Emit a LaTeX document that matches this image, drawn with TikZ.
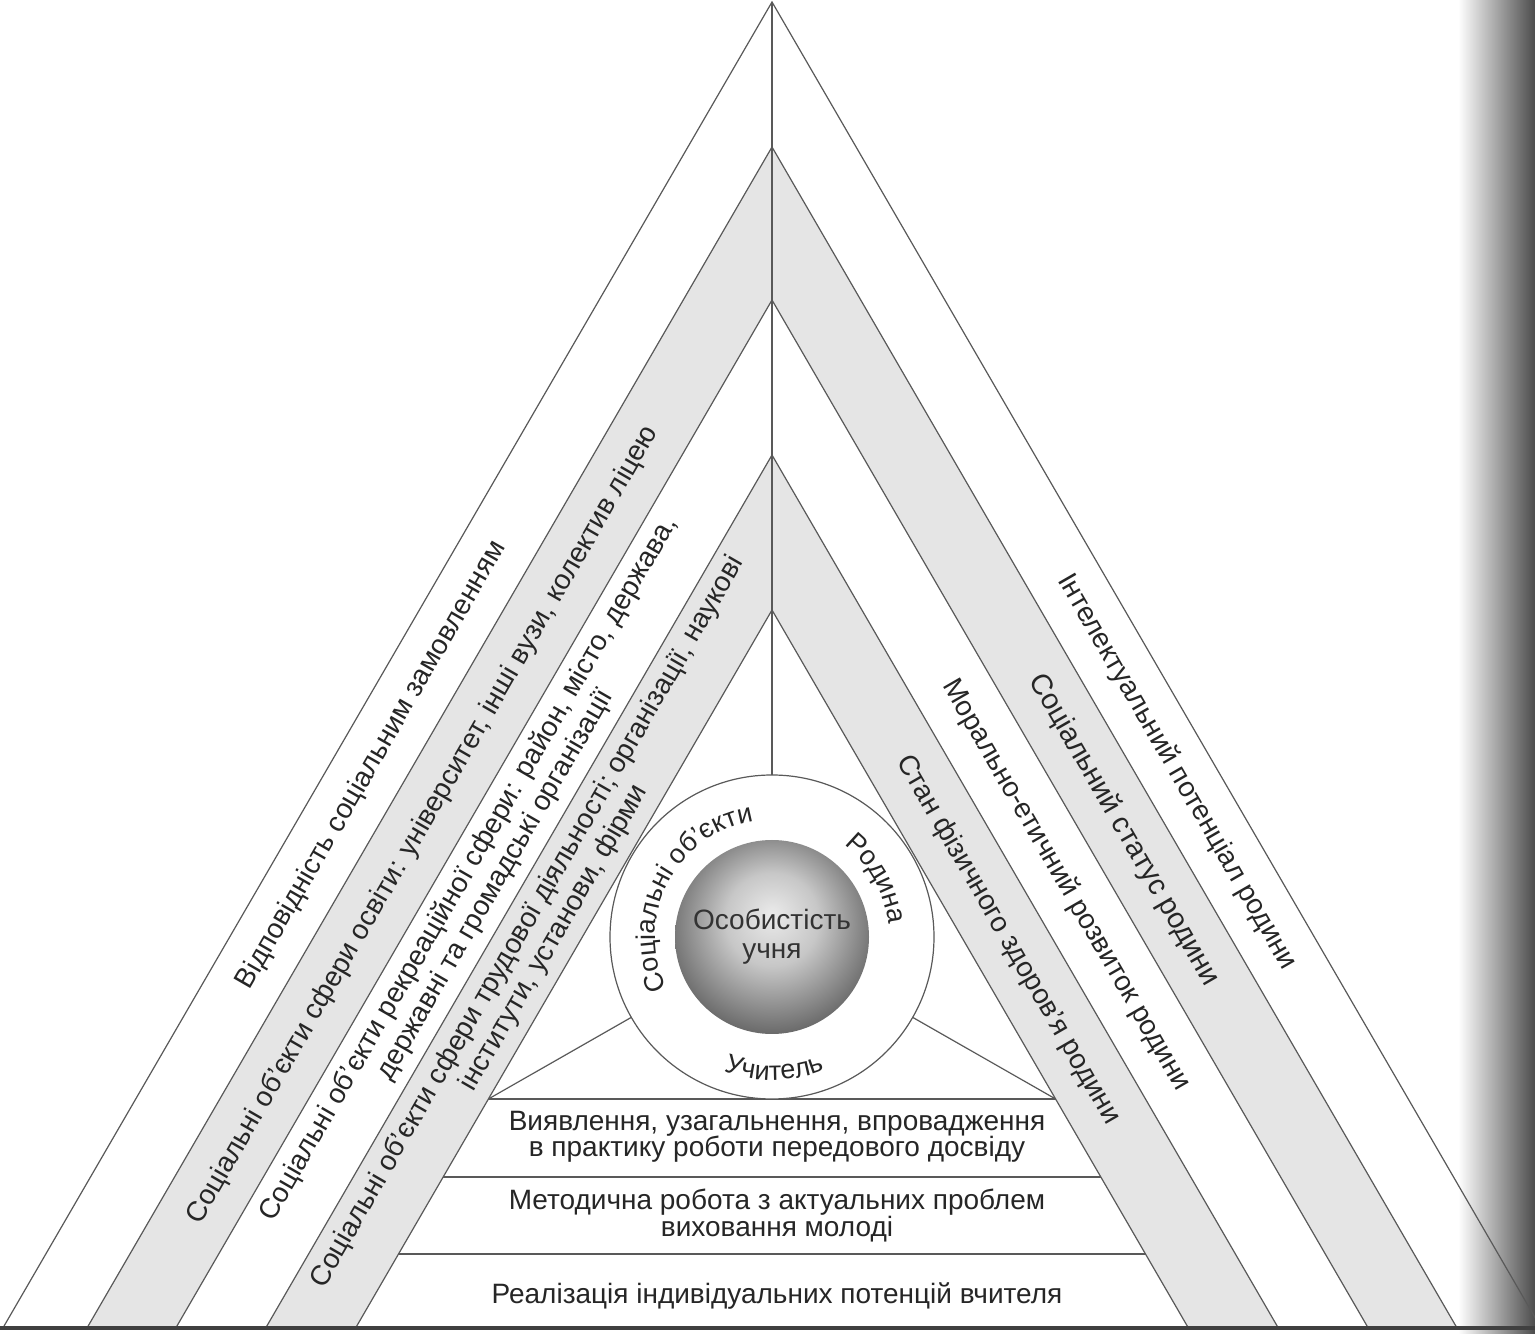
\documentclass[tikz,border=0pt]{standalone}
\usepackage{fontspec}
\setmainfont{Liberation Sans}
\usetikzlibrary{decorations.text,shadings}
\pgfdeclareradialshading{orb}{\pgfpoint{0bp}{6bp}}{color(0bp)=(black!8); color(12bp)=(black!22); color(30bp)=(black!64); color(50bp)=(black!90)}
\tikzstyle{edge} = [draw=black!65, line width=1.2pt]
\tikzstyle{band} = [fill=black!10]
\tikzstyle{slanttext} = [text=black!85, font=\fontsize{28}{31}\selectfont, align=center, inner sep=0pt]
\tikzstyle{leveltext} = [text=black!85, font=\fontsize{28}{26.5}\selectfont, align=center, inner sep=0pt]
\newcommand{\ringfont}{\fontsize{27}{28}\selectfont\color{black!85}}

\begin{document}
\begin{tikzpicture}[x=1pt, y=1pt]
                \useasboundingbox (0,0) rectangle (1535,1334);
                \fill [white] (0,0) rectangle (1535,1334);
                \shade [left color=white, right color=black!70] (1458,0) rectangle (1535,1334);

                \coordinate (A1) at (772,1332);
                \coordinate (L1) at (2.9,6);
                \coordinate (R1) at (1541.1,6);
                \coordinate (A2) at (772,1187);
                \coordinate (L2) at (87,6);
                \coordinate (R2) at (1457,6);
                \coordinate (A3) at (772,1034);
                \coordinate (L3) at (175.8,6);
                \coordinate (R3) at (1368.2,6);
                \coordinate (A4) at (772,879);
                \coordinate (L4) at (265.7,6);
                \coordinate (R4) at (1278.3,6);
                \coordinate (A5) at (772,724);
                \coordinate (L5) at (355.6,6);
                \coordinate (R5) at (1188.4,6);
                \coordinate (H1l) at (488.4,235);
                \coordinate (H1r) at (1055.6,235);
                \coordinate (H2l) at (443,157);
                \coordinate (H2r) at (1101,157);
                \coordinate (H3l) at (398.3,80);
                \coordinate (H3r) at (1145.7,80);
                \coordinate (O) at (772,397);

                \fill [band] (L2) -- (A2) -- (R2) -- (R3) -- (A3) -- (L3) -- cycle;
                \fill [band] (L4) -- (A4) -- (R4) -- (R5) -- (A5) -- (L5) -- cycle;

                \draw [edge] (L1) -- (A1) -- (R1);
                \draw [edge] (L2) -- (A2) -- (R2);
                \draw [edge] (L3) -- (A3) -- (R3);
                \draw [edge] (L4) -- (A4) -- (R4);
                \draw [edge] (L5) -- (A5) -- (R5);
                \draw [edge] (H1l) -- (H1r);
                \draw [edge] (H2l) -- (H2r);
                \draw [edge] (H3l) -- (H3r);
                \draw [edge] (A1) -- (O);
                \draw [edge] (O) -- (H1l);
                \draw [edge] (O) -- (H1r);
                \draw [line width=4pt, draw=black!75] (0,6) -- (1535,6);

                \node (ring) [circle, edge, fill=white, minimum size=324pt, inner sep=0pt] at (O) {};
                \shade [shading=orb] (O) circle (97);
                \node (core) [leveltext, font=\fontsize{28}{29}\selectfont, text=black!80] at (O) {Особистість\\учня};

                \path [decorate, decoration={text along path, text align=center, text={|\ringfont|Соціальні об’єкти}}] ([shift={(225:117)}]O) arc [start angle=225, end angle=80, radius=117];
                \path [decorate, decoration={text along path, text align=center, text={|\ringfont|Родина}}] ([shift={(62:117)}]O) arc [start angle=62, end angle=-4, radius=117];
                \path [decorate, decoration={text along path, text align=center, text={|\ringfont|Учитель}}] ([shift={(236:143)}]O) arc [start angle=236, end angle=306, radius=143];

                \node (order) [slanttext, rotate=60] at (371.5,569) {Відповідність соціальним замовленням};
                \node (educ) [slanttext, rotate=60] at (423,509) {Соціальні об’єкти сфери освіти: університет, інші вузи, колектив ліцею};
                \node (leisure) [slanttext, rotate=60] at (482,457) {Соціальні об’єкти рекреаційної сфери: район, місто, держава,\\державні та громадські організації};
                \node (labour) [slanttext, rotate=60] at (541,404) {Соціальні об’єкти сфери трудової діяльності; організації, наукові\\інститути, установи, фірми};
                \node (intel) [slanttext, rotate=-60] at (1177,562) {Інтелектуальний потенціал родини};
                \node (status) [slanttext, font=\fontsize{29}{29}\selectfont, rotate=-60] at (1124,504) {Соціальний статус родини};
                \node (moral) [slanttext, rotate=-60] at (1066,449) {Морально-етичний розвиток родини};
                \node (health) [slanttext, rotate=-60] at (1008,394) {Стан фізичного здоров’я родини};

                \node (practice) [leveltext] at (777,197) {Виявлення, узагальнення, впровадження\\в практику роботи передового досвіду};
                \node (method) [leveltext] at (777,118.5) {Методична робота з актуальних проблем\\виховання молоді};
                \node (potential) [leveltext] at (777,38) {Реалізація індивідуальних потенцій вчителя};
\end{tikzpicture}
\end{document}
